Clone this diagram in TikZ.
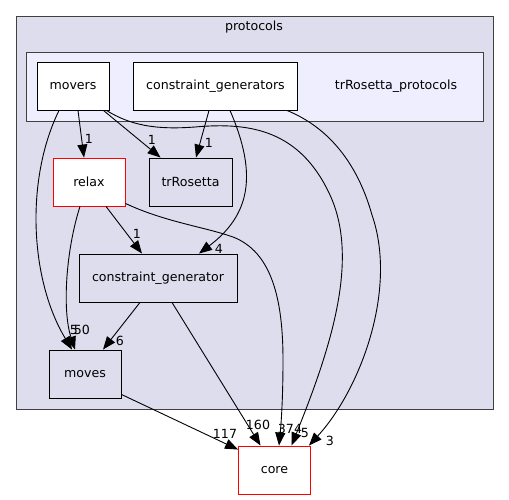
\documentclass[tikz,border=0pt]{standalone}
\usepackage{fontspec}
\setmainfont{DejaVu Sans}
\usetikzlibrary{arrows.meta}
\definecolor{clout}{HTML}{DDDDEE}
\definecolor{clin}{HTML}{EEEEFF}
\definecolor{clpen}{HTML}{404040}
\begin{document}
\begin{tikzpicture}[x=1pt,y=-1pt,
  font=\fontsize{12.6}{14}\selectfont,
  box/.style={draw=black, line width=0.9pt, minimum height=48pt, inner sep=0pt, fill=white},
  redbox/.style={box, draw=red},
  clbox/.style={box, fill=clout},
  edge/.style={-{Triangle[length=13pt,width=10pt]}, line width=0.9pt, black},
  lbl/.style={inner sep=0pt},
  cluster/.style={draw=clpen, line width=0.9pt}]
\useasboundingbox (0,0) rectangle (509,500);
% clusters
\filldraw[cluster, fill=clout] (16,16) rectangle (493,409);
\node[lbl] (protocolslbl) at (254,27) {protocols};
\filldraw[cluster, fill=clin] (26.5,52) rectangle (483,121);
\node[lbl] (trplbl) at (396,86) {trRosetta\_protocols};
% nodes
\node[box, minimum width=72pt] (movers) at (73,86) {movers};
\node[box, minimum width=164pt] (cgs) at (215.5,86) {constraint\_generators};
\node[redbox, minimum width=72pt] (relax) at (89,182) {relax};
\node[clbox, minimum width=83pt] (trRosetta) at (190.5,182) {trRosetta};
\node[clbox, minimum width=158pt] (cg) at (158,278) {constraint\_generator};
\node[clbox, minimum width=72pt] (moves) at (85,374) {moves};
\node[redbox, minimum width=72pt] (core) at (274.5,470) {core};
% edges
\draw[edge] ([xshift=5pt]movers.south) -- ([xshift=-5pt]relax.north);
\node[lbl] (l1) at (89,139) {1};
\draw[edge] ([xshift=-6pt]movers.south east) -- ([xshift=12pt]trRosetta.north west);
\node[lbl] (l2) at (152,140) {1};
\draw[edge] ([xshift=-6.5pt]cgs.south) -- ([xshift=5.5pt]trRosetta.north);
\node[lbl] (l3) at (209,143) {1};
\draw[edge] ([xshift=14.5pt]cgs.south) .. controls (258,175) and (250,215) .. ([xshift=41pt]cg.north);
\node[lbl] (l4) at (219,249) {4};
\draw[edge] ([xshift=17pt]relax.south) -- ([xshift=-16pt]cg.north);
\node[lbl] (l5) at (137,234) {1};
\draw[edge] ([xshift=-18pt]cg.south) -- ([xshift=18pt]moves.north);
\node[lbl] (l6) at (120,341) {6};
\draw[edge] ([xshift=-14pt]movers.south) .. controls (25,180) and (30,280) .. ([xshift=-13pt]moves.north);
\draw[edge] ([xshift=-9pt]relax.south) .. controls (66,250) and (62,310) .. ([xshift=-10pt]moves.north);
\node[lbl] (l7) at (74,330) {5};
\node[lbl] (l8) at (82,330) {50};
\draw[edge] ([yshift=4pt]moves.south east) -- ([yshift=-4pt]core.north west);
\node[lbl] (l9) at (225,434) {117};
\draw[edge] ([xshift=14pt]cg.south) -- ([xshift=-14pt]core.north);
\node[lbl] (l10) at (258,425) {160};
\draw[edge] ([yshift=3pt]relax.south east) .. controls (165,222) and (205,227) .. (233,237)
  .. controls (272,252) and (283,300) .. (283,360) .. controls (283,400) and (281,425) .. ([xshift=4.5pt]core.north);
\node[lbl] (l11) at (290,429) {374};
\draw[edge] ([xshift=-3pt]movers.south east) .. controls (130,125) and (155,130) .. (195,127)
  .. controls (250,122) and (300,130) .. (330,195) .. controls (360,260) and (330,350) .. ([xshift=17pt]core.north);
\node[lbl] (l12) at (305,433) {5};
\draw[edge] ([xshift=-11pt]cgs.south east) .. controls (330,128) and (358,165) .. (372,215)
  .. controls (398,290) and (360,390) .. ([xshift=-2pt]core.north east);
\node[lbl] (l13) at (330,441) {3};
\end{tikzpicture}
\end{document}
